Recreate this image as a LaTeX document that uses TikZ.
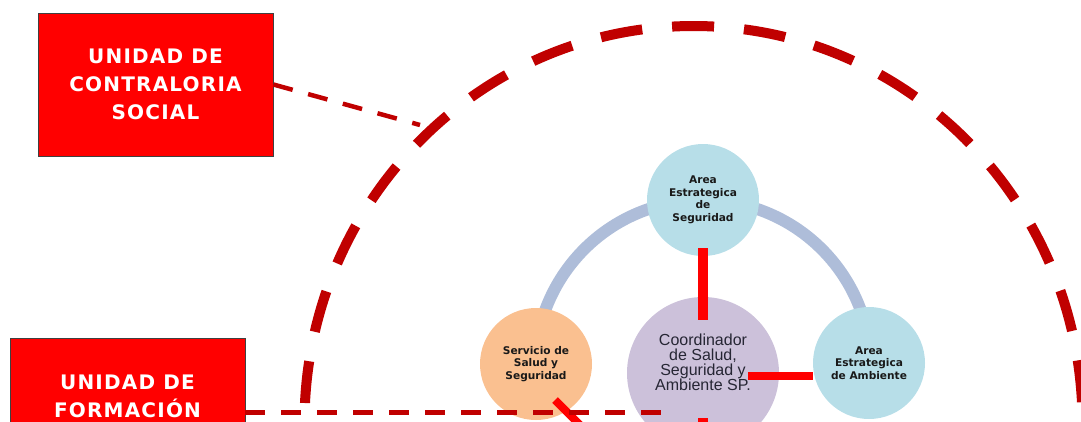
\documentclass[tikz,border=0pt]{standalone}
\usepackage{fontspec}
\setmainfont{Liberation Sans}
\newfontfamily\boxfont[LetterSpace=6]{DejaVu Sans}
\newfontfamily\circfont{DejaVu Sans}
\usetikzlibrary{calc}

\definecolor{boxred}{RGB}{255,0,0}
\definecolor{darkdash}{RGB}{192,0,0}
\definecolor{ringblue}{RGB}{174,189,217}
\definecolor{aqua}{RGB}{183,222,232}
\definecolor{peach}{RGB}{250,192,144}
\definecolor{lavender}{RGB}{204,193,218}
\definecolor{labelgray}{RGB}{38,38,52}

\tikzset{
  unitbox/.style={draw=black!75, line width=0.8pt, fill=boxred, text=white,
    font=\boxfont\bfseries\fontsize{20}{28}\selectfont, align=center,
    inner sep=0pt, minimum width=235pt},
  area/.style={circle, minimum size=112pt, inner sep=0pt, align=center,
    font=\circfont\bfseries\fontsize{10.6}{12.5}\selectfont, text=black!90},
  bigdash/.style={draw=darkdash, line width=10pt,
    dash pattern=on 42pt off 30pt, dash phase=52pt},
  thindash/.style={draw=darkdash, line width=5pt, dash pattern=on 20pt off 16pt},
  ring/.style={draw=ringblue, line width=12pt},
  redlink/.style={draw=boxred, line width=10pt}
}

\begin{document}
\begin{tikzpicture}[x=1pt,y=-1pt]
\clip (0,0) rectangle (1081,421);
\useasboundingbox (0,0) rectangle (1081,421);

% outer dashed half circle
\coordinate (outerc) at (693.5,423);
\draw[bigdash] (outerc) ++(-389,0) arc[start angle=180, end angle=360, x radius=389, y radius=397];

% ring joining the three outer circles
\coordinate (ringc) at (703,368);
\draw[ring] (ringc) ++(170:168) arc[start angle=170, end angle=370, radius=168];

% red unit boxes
\node[unitbox, minimum height=143pt] (contraloria) at (155.5,84.5) {UNIDAD DE\\CONTRALORIA\\SOCIAL};
\node[unitbox, minimum height=116pt] (formacion) at (127.5,396) {UNIDAD DE\\FORMACIÓN};

% circles
\node[area, fill=aqua] (seg) at (703,200) {Area\\Estrategica\\de\\Seguridad};
\node[area, fill=peach] (serv) at (536,364) {Servicio de\\Salud y\\Seguridad};
\node[area, fill=aqua] (amb) at (869,363) {Area\\Estrategica\\de Ambiente};
\node[circle, minimum size=152pt, inner sep=0pt, fill=lavender] (coord) at (703,373) {};
\node[align=center, inner sep=0pt, text=labelgray, font=\fontsize{16}{15}\selectfont]
  (coordtext) at (703,362) {Coordinador\\de Salud,\\Seguridad y\\Ambiente SP.};

% red links
\draw[redlink] ($(seg.south)+(0,-8)$) -- ($(coord.north)+(0,23)$);
\draw[redlink, line width=8pt] ($(coord.east)+(-31,3)$) -- ($(amb.west)+(0,13)$);
\coordinate (servlow) at (600,445);
\draw[redlink, line width=8pt] ($(serv.center)+(19,36)$) -- (servlow);
\coordinate (coordlow) at (703,460);
\draw[redlink] ($(coord.center)+(0,45)$) -- (coordlow);

% dashed connectors from the units
\coordinate (contend) at (420,125);
\draw[thindash, line width=4.5pt] (contraloria.east) -- (contend);
\coordinate (formend) at (670,412);
\draw[thindash] (formacion.east |- formend) -- (formend);
\end{tikzpicture}
\end{document}
